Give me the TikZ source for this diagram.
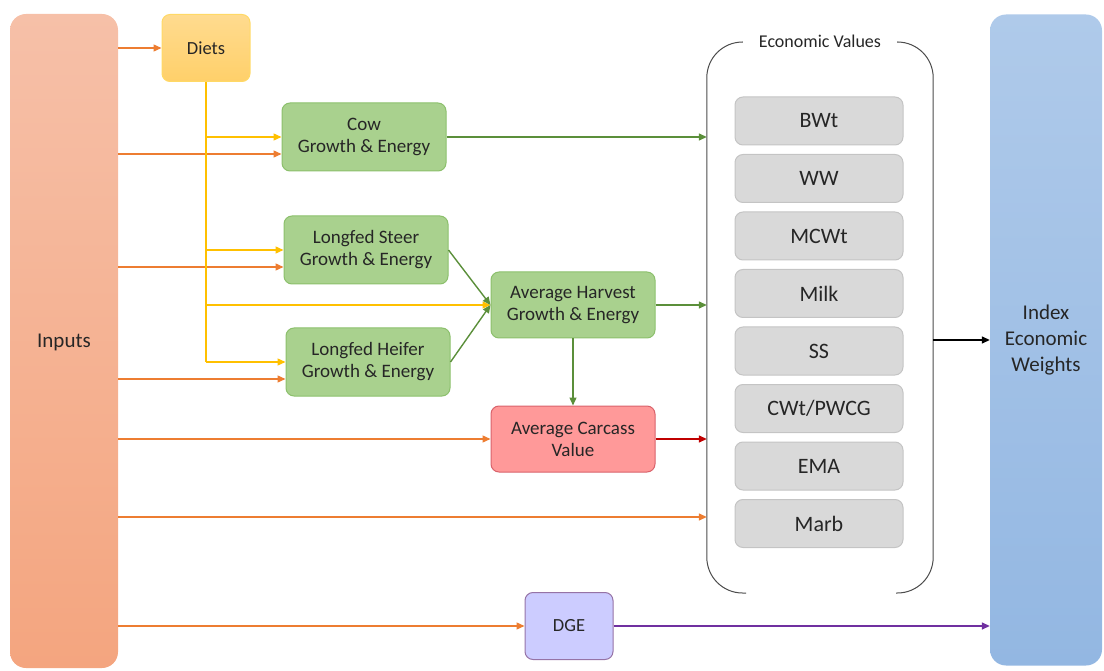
\documentclass[tikz,border=0pt]{standalone}
\usepackage{fontspec}
\setmainfont{Carlito}
\usetikzlibrary{arrows.meta,calc}

\definecolor{orangeln}{HTML}{ED7D31}
\definecolor{yellowln}{HTML}{FFC000}
\definecolor{greenln}{HTML}{5B8F3A}
\definecolor{greenfill}{HTML}{A9D18E}
\definecolor{greendraw}{HTML}{8CC06C}
\definecolor{redfill}{HTML}{FF9999}
\definecolor{reddraw}{HTML}{D9626B}
\definecolor{redln}{HTML}{C00000}
\definecolor{purplefill}{HTML}{CCCCFF}
\definecolor{purpledraw}{HTML}{9673A6}
\definecolor{purpleln}{HTML}{7030A0}
\definecolor{greyfill}{HTML}{D9D9D9}
\definecolor{greydraw}{HTML}{C4C4C4}
\definecolor{inputtop}{HTML}{F6C0A8}
\definecolor{inputbot}{HTML}{F4A57F}
\definecolor{indextop}{HTML}{AFCAEA}
\definecolor{indexbot}{HTML}{93B7E2}
\definecolor{dietstop}{HTML}{FFDB8F}
\definecolor{dietsbot}{HTML}{FFD06A}
\definecolor{txt}{HTML}{262626}

\tikzset{
  flow/.style={line width=1.4pt,-{Triangle[length=8pt,width=7pt]}},
  oline/.style={flow,orangeln},
  yline/.style={flow,yellowln},
  gline/.style={flow,greenln},
  box/.style={rounded corners=8pt,line width=1pt,align=center,text=txt,
    minimum width=164pt,minimum height=68pt,font=\fontsize{19}{22}\selectfont},
  greenbox/.style={box,fill=greenfill,draw=greendraw},
  evitem/.style={rounded corners=8pt,line width=1pt,fill=greyfill,draw=greydraw,
    minimum width=168pt,minimum height=48pt,text=txt,font=\fontsize{22}{26}\selectfont}
}

\begin{document}
\begin{tikzpicture}[x=1pt,y=-1pt]
\useasboundingbox (0,0) rectangle (1104,671);

% Draw the two side columns
\node[rounded corners=16pt,top color=inputtop,bottom color=inputbot,
  minimum width=108pt,minimum height=654pt,text=txt,font=\fontsize{21}{25}\selectfont,
  text depth=-10pt] (Inputs) at (64,341) {Inputs};
\node[rounded corners=16pt,top color=indextop,bottom color=indexbot,
  minimum width=112pt,minimum height=651pt,align=center,text=txt,font=\fontsize{21}{26}\selectfont]
  (Index) at (1046,340) {Index\\Economic\\Weights};

% Draw model boxes
\node[box,top color=dietstop,bottom color=dietsbot,draw=yellowln!60!white,
  minimum width=88pt,minimum height=67pt,font=\fontsize{18.5}{22}\selectfont] (Diets) at (206,48) {Diets};
\node[greenbox] (Cow) at (364,137) {Cow\\Growth \& Energy};
\node[greenbox] (Steer) at (366,250) {Longfed Steer\\Growth \& Energy};
\node[greenbox] (Heifer) at (368,362) {Longfed Heifer\\Growth \& Energy};
\node[greenbox,minimum height=66pt] (Harvest) at (573,305) {Average Harvest\\Growth \& Energy};
\node[box,fill=redfill,draw=reddraw,minimum height=66pt] (Carcass) at (573,439) {Average Carcass\\Value};
\node[box,fill=purplefill,draw=purpledraw,minimum width=88pt,minimum height=67pt,
  font=\fontsize{18.5}{22}\selectfont] (DGE) at (569,626) {DGE};

% Draw economic values container
\node[minimum width=226pt,minimum height=551pt] (EV) at (820,317.5) {};
\draw[line width=1pt,black!70,rounded corners=36pt]
  (742,42) -- (EV.north west) -- (EV.south west) -- (746,593);
\draw[line width=1pt,black!70,rounded corners=36pt]
  (898,42) -- (EV.north east) -- (EV.south east) -- (896,593);
\node[text=txt,font=\fontsize{18}{22}\selectfont] (EVlabel) at (820,41) {Economic Values};
\foreach \i/\lab/\nm in {0/BWt/bwt,1/WW/ww,2/MCWt/mcwt,3/Milk/milk,4/SS/ss,5/CWt\slash PWCG/cwt,6/EMA/ema,7/Marb/marb} {
  \node[evitem] (\nm) at (819,121+57.5*\i) {\lab};
}

% Inputs arrows
\draw[oline] (Inputs.east |- Diets) -- (Diets);
\foreach \n in {Cow,Steer,Heifer} {
  \coordinate (\n in) at ($(\n.west)+(0,17)$);
  \draw[oline] (Inputs.east |- \n in) -- (\n in);
}
\draw[oline] (Inputs.east |- Carcass.west) -- (Carcass.west);
\coordinate (marbin) at ($(marb.west)+(0,-6.5)$);
\draw[oline] (Inputs.east |- marbin) -- (EV.west |- marbin);
\draw[oline] (Inputs.east |- DGE) -- (DGE);

% Diets feed lines
\draw[line width=1.4pt,yellowln] (Diets.south) -- (Diets.south |- Heifer.west);
\foreach \n in {Cow,Steer,Harvest,Heifer} {
  \draw[yline] (Diets.south |- \n.west) -- (\n.west);
}

% Growth model links
\draw[gline] (Steer.east) -- (Harvest.west);
\draw[gline] (Heifer.east) -- (Harvest.west);
\draw[gline] (Harvest) -- (Carcass);
\draw[gline] (Cow.east) -- (EV.west |- Cow.east);
\draw[gline] (Harvest.east) -- (EV.west |- Harvest.east);
\draw[flow,redln] (Carcass.east) -- (EV.west |- Carcass.east);

% Outputs to index
\draw[flow,black] (EV.east |- Index.west) -- (Index.west);
\draw[flow,purpleln] (DGE) -- (Index.west |- DGE);
\end{tikzpicture}
\end{document}
